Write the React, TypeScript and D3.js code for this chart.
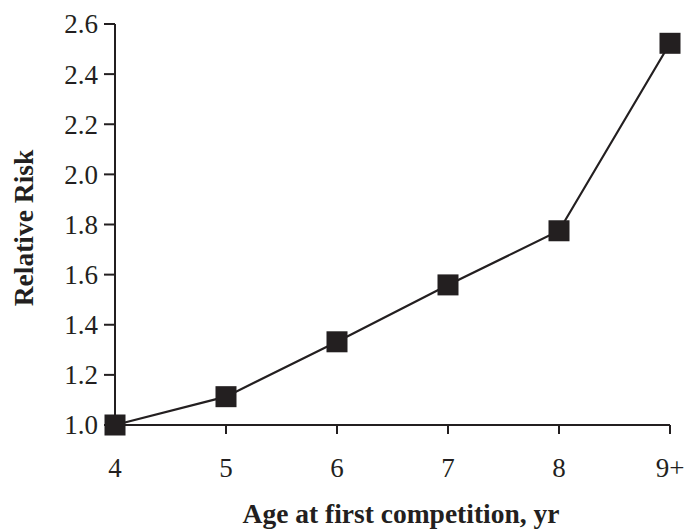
import * as d3 from 'd3';

const ages = ['4', '5', '6', '7', '8', '9+'];
const relativeRisk = [1.0, 1.113, 1.332, 1.559, 1.775, 2.523];
const yTicks = [1.0, 1.2, 1.4, 1.6, 1.8, 2.0, 2.2, 2.4, 2.6];

const width = 687;
const height = 529;
const ink = '#231f20';
const font = '"Liberation Serif", "Times New Roman", serif';

export default function App() {
  const x = d3.scalePoint(ages, [115, 670]);
  const y = d3.scaleLinear([1.0, 2.6], [425, 24]);
  const line = d3.line<number>((_, i) => x(ages[i]) ?? 0, (d) => y(d));
  const x0 = 115;
  const y0 = y(1.0);

  return (
    <svg
      width={width}
      height={height}
      style={{ position: 'absolute', left: 0, top: 0, background: '#fff' }}
      fontFamily={font}
    >
      {/* y axis */}
      <line x1={x0} x2={x0} y1={y0} y2={y(2.6)} stroke={ink} strokeWidth={2} />
      {yTicks.map((t) => (
        <g key={t}>
          <line x1={x0 - 11} x2={x0} y1={y(t)} y2={y(t)} stroke={ink} strokeWidth={2} />
          <text
            x={x0 - 17}
            y={y(t)}
            dy="0.35em"
            textAnchor="end"
            fontSize={27}
            fill={ink}
          >
            {t.toFixed(1)}
          </text>
        </g>
      ))}

      {/* x axis */}
      <line x1={x0} x2={x(ages[ages.length - 1])} y1={y0} y2={y0} stroke={ink} strokeWidth={2} />
      {ages.map((a) => (
        <g key={a}>
          <line
            x1={x(a)}
            x2={x(a)}
            y1={y0}
            y2={y0 + 9}
            stroke={ink}
            strokeWidth={2}
          />
          <text x={x(a)} y={477} textAnchor="middle" fontSize={27} fill={ink}>
            {a}
          </text>
        </g>
      ))}

      <path d={line(relativeRisk) ?? ''} fill="none" stroke={ink} strokeWidth={2.2} />
      {relativeRisk.map((v, i) => (
        <rect
          key={i}
          x={(x(ages[i]) ?? 0) - 10.5}
          y={y(v) - 10.5}
          width={21}
          height={21}
          fill={ink}
        />
      ))}

      <text
        x={401}
        y={523}
        textAnchor="middle"
        fontSize={27.5}
        fontWeight="bold"
        fill={ink}
      >
        Age at first competition, yr
      </text>
      <text
        transform={`translate(33, 228) rotate(-90)`}
        textAnchor="middle"
        fontSize={27.5}
        fontWeight="bold"
        fill={ink}
      >
        Relative Risk
      </text>
    </svg>
  );
}
